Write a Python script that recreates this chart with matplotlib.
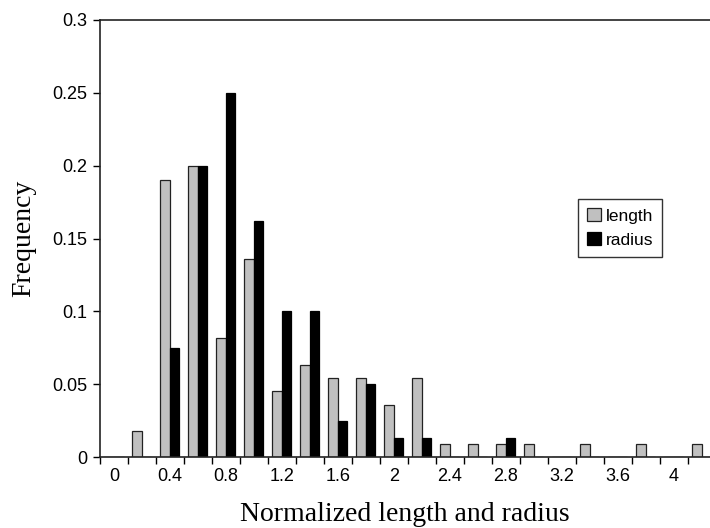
import numpy as np
import matplotlib.pyplot as plt

# Klassen (Mitte der Klassen, Schrittweite 0.2)
categories = [0.0, 0.2, 0.4, 0.6, 0.8, 1.0, 1.2, 1.4, 1.6, 1.8, 2.0,
              2.2, 2.4, 2.6, 2.8, 3.0, 3.2, 3.4, 3.6, 3.8, 4.0, 4.2]

length_freq = [0.0, 0.018, 0.190, 0.200, 0.082, 0.136, 0.045, 0.063, 0.054, 0.054, 0.036,
               0.054, 0.009, 0.009, 0.009, 0.009, 0.0, 0.009, 0.0, 0.009, 0.0, 0.009]
radius_freq = [0.0, 0.0, 0.075, 0.200, 0.250, 0.162, 0.100, 0.100, 0.025, 0.050, 0.013,
               0.013, 0.0, 0.0, 0.013, 0.0, 0.0, 0.0, 0.0, 0.0, 0.0, 0.0]

tick_labels = ["0", "0.4", "0.8", "1.2", "1.6", "2", "2.4", "2.8", "3.2", "3.6", "4"]

fig = plt.figure(figsize=(7.1, 5.28), dpi=100)
ax = fig.add_axes([100 / 710, 71 / 528, 610 / 710, 437 / 528])

x = np.arange(len(categories))
width = 0.34

ax.bar(x - width / 2, length_freq, width=width, color="#c0c0c0",
       edgecolor="#222222", linewidth=0.9, label="length", zorder=2)
ax.bar(x + width / 2, radius_freq, width=width, color="black",
       edgecolor="black", linewidth=0.9, label="radius", zorder=2)

ax.set_xlim(-0.5, 21.3)
ax.set_ylim(0, 0.3)

# Beschriftung jede zweite Klasse, Striche zwischen den Klassen
ax.set_xticks(x[::2])
ax.set_xticklabels(tick_labels, family="Liberation Sans", fontsize=13)
ax.set_xticks(np.arange(len(categories)) - 0.5, minor=True)
ax.tick_params(axis="x", which="major", length=0, pad=8)
ax.tick_params(axis="x", which="minor", length=5, width=1, direction="out")

ax.set_yticks([0, 0.05, 0.1, 0.15, 0.2, 0.25, 0.3])
ax.set_yticklabels(["0", "0.05", "0.1", "0.15", "0.2", "0.25", "0.3"],
                   family="Liberation Sans", fontsize=13)
ax.tick_params(axis="y", length=5, width=1, direction="out", pad=4)

ax.spines["right"].set_visible(False)
for s in ["left", "top", "bottom"]:
    ax.spines[s].set_linewidth(1.2)
    ax.spines[s].set_color("#222222")

ax.set_xlabel("Normalized length and radius", family="Liberation Serif", fontsize=20, labelpad=12)
ax.set_ylabel("Frequency", family="Liberation Serif", fontsize=20, labelpad=12)

leg = ax.legend(loc="upper left", bbox_to_anchor=(0.784, 0.59), frameon=True,
                fancybox=False, edgecolor="black", prop={"family": "Liberation Sans", "size": 12.5},
                handlelength=0.8, handleheight=0.8, handletextpad=0.3, borderpad=0.5,
                labelspacing=0.5, borderaxespad=0)
leg.get_frame().set_linewidth(1.0)

fig.savefig("out.png", dpi=100)
